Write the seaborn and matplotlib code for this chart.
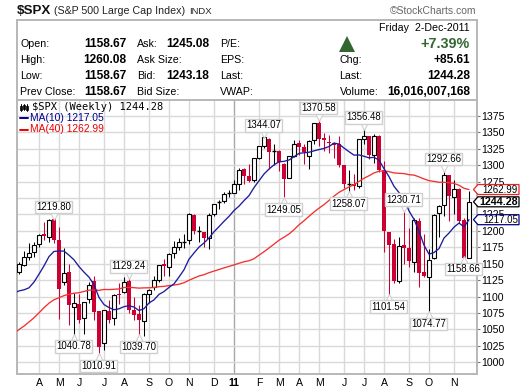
import numpy as np
import pandas as pd
import seaborn as sns
import matplotlib
matplotlib.use("Agg")
import matplotlib.pyplot as plt
from matplotlib.patches import Polygon

# ---------- data ----------
opens = [1137,1148,1160,1168,1180,1195,1191,1218,1186,1122,
         1137,1084,1088,1067,1096,1124,1078,1029,1078,1067,
         1104,1107,1124,1079,1073,1063,1104,1114,1125,1149,
         1145,1166,1176,1183,1186,1224,1199,1198,1189,1225,
         1243,1245,1256,1258,1271,1294,1284,1277,1311,1329,
         1340,1320,1322,1302,1281,1314,1334,1328,1314,1338,
         1364,1341,1336,1334,1332,1300,1271,1271,1268,1340,
         1344,1316,1344,1293,1199,1180,1124,1178,1174,1153,
         1215,1137,1130,1158,1227,1239,1285,1252,1264,1217,
         1158.67]
highs = [1153,1170,1181,1183,1195,1214,1218,1219.80,1206,1174,
         1150,1105,1104,1092,1122,1131,1078,1079,1095,1104,
         1120,1129,1129.24,1100,1087,1105,1111,1131,1148,1157,
         1167,1184,1189,1196,1227,1226,1207,1199,1227,1241,
         1247,1259,1262,1278,1296,1296,1302,1311,1330,1344.07,
         1342,1332,1323,1303,1314,1338,1339,1332,1339,1365,
         1370.58,1349,1346,1336,1345,1300,1292,1286,1340,1356.48,
         1345,1347,1346,1307,1199,1188,1190,1230.71,1204,1220,
         1220,1196,1172,1226,1240,1292.66,1285,1277,1265,1219,
         1260.08]
lows = [1134,1146,1155,1160,1175,1186,1183,1181,1066,1117,
        1056,1040.78,1060,1043,1090,1065,1010.91,1018,1060,1056,
        1089,1105,1075,1065,1039.70,1040,1090,1110,1122,1131,
        1131,1159,1171,1174,1180,1195,1183,1175,1173,1222,
        1234,1243,1252,1257,1263,1272,1275,1275,1310,1327,
        1295,1300,1291,1249.05,1280,1312,1316,1302,1295,1332,
        1329,1322,1318,1311,1298,1265,1258.07,1262,1266,1333,
        1310,1303,1289,1168,1101.54,1120,1121,1150,1145,1137,
        1114,1129,1074.77,1157,1191,1222,1215,1226,1212,1158.66,
        1158.67]
closes = [1149.99,1159.90,1166.59,1178.10,1194.37,1192.13,1217.28,1186.69,1110.88,1135.68,
          1087.69,1089.41,1064.88,1091.60,1117.51,1076.76,1022.58,1078.75,1064.88,1102.66,
          1101.60,1121.64,1079.25,1071.69,1064.59,1104.51,1109.55,1125.59,1148.67,1146.24,
          1165.15,1176.19,1183.08,1183.26,1225.85,1199.21,1199.73,1189.40,1224.71,1240.40,
          1243.91,1256.77,1257.64,1271.50,1293.24,1283.35,1276.34,1310.87,1329.15,1343.01,
          1319.88,1321.15,1304.28,1279.21,1313.80,1332.41,1328.17,1319.68,1337.38,1363.61,
          1340.20,1337.77,1333.27,1331.10,1300.16,1270.98,1271.50,1268.45,1339.67,1343.80,
          1316.14,1345.02,1292.28,1199.38,1178.81,1123.53,1176.80,1173.97,1154.23,1216.01,
          1136.43,1131.42,1155.46,1224.58,1238.25,1285.09,1253.23,1263.85,1215.65,1158.67,
          1244.28]
ma10 = [1105.1,1108.6,1110.2,1113.3,1122.0,1134.1,1146.7,1160.9,1168.7,1169.4,1169.2,
        1163.0,1155.9,1145.7,1137.1,1129.5,1118.0,1098.6,1087.8,1083.2,1079.9,
        1081.3,1084.6,1086.0,1084.0,1078.7,1081.5,1090.2,1094.9,1103.3,1107.6,
        1113.9,1119.3,1129.7,1140.8,1156.9,1166.3,1175.3,1181.6,1189.2,1198.6,
        1206.5,1214.6,1222.1,1231.0,1237.7,1246.1,1253.7,1265.9,1276.3,1286.6,
        1294.2,1300.6,1305.2,1305.9,1308.0,1312.9,1318.1,1319.0,1319.8,1321.9,
        1323.9,1325.6,1328.5,1333.7,1332.3,1326.2,1320.6,1315.4,1315.7,1313.7,
        1311.3,1312.0,1307.9,1294.7,1282.6,1267.9,1258.4,1249.0,1230.4,1217.6,
        1199.6,1178.2,1164.5,1167.1,1173.0,1189.1,1196.7,1205.7,1211.9,1206.2,
        1217.05]
ma40 = [1044.0,1049.7,1055.0,1061.2,1067.7,1075.2,1083.0,1089.9,1095.1,1098.2,1101.4,
        1103.5,1105.0,1105.9,1107.8,1109.7,1109.9,1109.4,1110.8,1110.6,1111.0,
        1111.6,1113.7,1114.0,1113.5,1112.8,1113.2,1113.3,1113.8,1115.0,1115.5,
        1116.7,1117.5,1118.7,1121.0,1124.8,1128.1,1131.3,1133.3,1136.3,1138.8,
        1141.2,1143.6,1145.9,1148.2,1150.7,1153.0,1154.5,1157.6,1163.0,1168.2,
        1174.0,1179.8,1185.8,1190.4,1195.3,1201.7,1209.3,1215.4,1222.2,1228.7,
        1234.6,1240.0,1246.4,1252.9,1258.7,1262.9,1266.9,1270.5,1275.3,1280.2,
        1284.0,1288.2,1290.9,1291.3,1290.2,1288.3,1287.7,1287.3,1285.6,1285.0,
        1282.3,1279.1,1276.5,1275.4,1274.0,1274.0,1273.5,1272.3,1269.5,1264.9,
        1262.99]
month_labels = ["A","M","J","J","A","S","O","N","D","11","F","M","A","M","J","J","A","S","O","N"]
month_weeks = [4,8,12,17,21,26,30,34,39,43,48,52,56,60,65,69,73,78,82,87]
price_ticks = list(range(1000, 1376, 25))
hidden_price_labels = [1250]          # sits fully behind the price tags
peak_weeks = [7,22,49,60,69,77,85]    # labelled highs
trough_weeks = [11,16,24,53,66,74,82,89]  # labelled lows
left_rows = [("Open:","1158.67","Ask:","1245.08","P/E:"),
             ("High:","1260.08","Ask Size:","","EPS:"),
             ("Low:","1158.67","Bid:","1243.18","Last:"),
             ("Prev Close:","1158.67","Bid Size:","","VWAP:")]
right_rows = [("Chg:","+85.61"),("Last:","1244.28"),("Volume:","16,016,007,168")]
tags = [("1262.99", 1262.99, "#ee2222", False), ("1244.28", 1244.28, "#000000", True),
        ("1217.05", 1217.05, "#000088", False)]

# ---------- style ----------
W, H = 520, 391
sns.set_theme(style="white")
plt.rcParams["font.family"] = ["Liberation Sans", "DejaVu Sans"]
plt.rcParams["axes.unicode_minus"] = False
GRID = "#d9d9d9"; FRAME = "#b8b8b8"; RED = "#cc0033"
fig = plt.figure(figsize=(W/100, H/100), dpi=100, facecolor="white")
def axes_px(x0, y0, x1, y1):
    return fig.add_axes([x0/W, 1-y1/H, (x1-x0)/W, (y1-y0)/H])
def ftext(x, y, s, **k):
    k.setdefault("va", "center"); k.setdefault("color", "black")
    fig.text(x/W, 1-y/H, s, **k)

# ---------- price panel ----------
ax = axes_px(16.5, 99.5, 476.5, 373.5)
ax.set_xlim(-0.5, 91.5)
ax.set_ylim(1375-(373.5-116)/0.6565, 1375+(116-99.5)/0.6565)
weeks = np.arange(len(closes))
ax.set_yticks(price_ticks)
ax.set_yticklabels(["" if p in hidden_price_labels else str(p) for p in price_ticks])
ax.set_xticks(month_weeks); ax.set_xticklabels(month_labels)
ax.set_xticks(weeks, minor=True)
ax.yaxis.tick_right()
ax.grid(True, which="major", color=GRID, lw=1.0)
ax.set_axisbelow(True)
for lab, gl in zip(month_labels, ax.get_xgridlines()):
    if lab == "11":
        gl.set_color("#a8a8a8")
ax.tick_params(axis="y", which="major", length=2, width=0.8, color="#777777", labelsize=7.6, pad=1.5, labelcolor="black")
ax.tick_params(axis="x", which="major", length=2, width=0.8, color=FRAME, labelsize=7.6, pad=1.5, labelcolor="black")
ax.tick_params(axis="x", which="minor", length=1, width=0.6, color=FRAME)
for t, lab in zip(ax.get_xticklabels(), month_labels):
    if lab == "11":
        t.set_fontweight("bold")
for sp in ax.spines.values():
    sp.set_color(FRAME); sp.set_linewidth(1.4)

prev = [closes[0]-11.29] + closes[:-1]
for i in weeks:
    o, h, l, c = opens[i], highs[i], lows[i], closes[i]
    col = "black" if c >= prev[i] else RED
    ax.vlines(i, l, h, color=col, lw=0.75, zorder=2)
    lo, hi = min(o, c), max(o, c)
    if col == RED and c < o:
        ax.bar(i, hi-lo, bottom=lo, width=0.96, color=RED, lw=0, zorder=3)
    elif hi-lo < 2.5:
        ax.hlines(c, i-0.45, i+0.45, color=col, lw=1.0, zorder=3)
    else:
        ax.bar(i, hi-lo, bottom=lo, width=0.78, facecolor="white", edgecolor=col, lw=0.8, zorder=3)

ma_weeks = np.arange(-1, len(closes))
sns.lineplot(x=ma_weeks, y=ma40, ax=ax, color="#f23030", lw=0.95, estimator=None, zorder=4, legend=False)
sns.lineplot(x=ma_weeks, y=ma10, ax=ax, color="#1c1c9c", lw=0.95, estimator=None, zorder=5, legend=False)
ax.set_xlabel(""); ax.set_ylabel("")

def callout(week, value, up):
    sign = 1 if up else -1
    ax.plot([week], [value + sign*3.5], marker="^" if not up else "v", ms=5.5, mfc="white", mec="#cfcfcf",
            mew=0.8, zorder=6, clip_on=False)
    ax.annotate(f"{value:.2f}", xy=(week, value), xytext=(-0.5, sign*11), textcoords="offset pixels",
                ha="center", va="center", fontsize=6.9, color="black", zorder=7, annotation_clip=False,
                bbox=dict(boxstyle="square,pad=0.14", fc="white", ec="#cfcfcf", lw=1.0))
for w in peak_weeks:
    callout(w, highs[w], True)
for w in trough_weeks:
    callout(w, lows[w], False)

# ---------- right-hand price tags ----------
fig.canvas.draw()
for txt, val, col, bold in tags:
    yp = ax.transData.transform((0, val))[1]
    pts = [(473.5, yp), (478, yp+5), (519, yp+5), (519, yp-5), (478, yp-5)]
    fig.add_artist(Polygon(pts, closed=True, transform=None, fc="white", ec=col, lw=0.9, zorder=8))
    ftext(518, H-yp, txt, ha="right", fontsize=7.7 if bold else 7.0, fontweight="bold" if bold else "normal", zorder=9)

# ---------- legend lines ----------
ftext(32, 107.5, "$SPX (Weekly) 1244.28", family="DejaVu Sans Mono", fontsize=7.5)
for x, top, bot, a, b in [(21, 104, 111, 105.5, 109.5), (24, 103.5, 110.5, 105, 109), (27, 104, 111, 105.5, 109.5)]:
    fig.add_artist(plt.Line2D([x/W, x/W], [1-top/H, 1-bot/H], color="black", lw=0.7))
    fig.add_artist(plt.Rectangle(((x-1)/W, 1-b/H), 2/W, (b-a)/H, fc="white", ec="black", lw=0.6))
fig.add_artist(plt.Line2D([20/W, 28/W], [1-118/H, 1-118/H], color="#000088", lw=1.4))
ftext(29.5, 118, "MA(10) 1217.05", color="#000088", fontsize=7.4)
fig.add_artist(plt.Line2D([20/W, 28/W], [1-129.5/H, 1-129.5/H], color="#ee0000", lw=1.4))
ftext(29.5, 129.5, "MA(40) 1262.99", color="#ee0000", fontsize=7.4)

# ---------- header ----------
hd = axes_px(16.5, 19.5, 476.5, 99.5)
hd.set_xticks([]); hd.set_yticks([]); hd.patch.set_facecolor("white")
for sp in hd.spines.values():
    sp.set_color(FRAME); sp.set_linewidth(1.4)
ftext(16.5, 11, "$SPX", fontweight="bold", fontsize=9.6, color="#111111")
ftext(53.5, 11, "(S&P 500 Large Cap Index)", fontsize=7.7, color="#222222")
ftext(189.5, 11, "INDX", fontsize=6.8, color="#222222")
ftext(476, 11.5, "©StockCharts.com", ha="right", fontsize=7.5, color="#666666")
ftext(469.5, 28, "Friday  2-Dec-2011", ha="right", fontsize=7.7)
ftext(470, 44, "+7.39%", ha="right", fontweight="bold", fontsize=10.4, color="#336633")
hd.set_xlim(16.5, 476.5); hd.set_ylim(99.5, 19.5)
hd.plot([347], [44], marker="^", ms=11, color="#336633", mew=0, clip_on=False)
for y, (a, b, c, d, e) in zip([44, 60, 76, 92], left_rows):
    ftext(20.5, y, a, fontsize=7.7)
    ftext(126.5, y, b, ha="right", fontweight="bold", fontsize=8.6)
    ftext(137, y, c, fontsize=7.7)
    if d:
        ftext(209.5, y, d, ha="right", fontweight="bold", fontsize=8.6)
    ftext(220, y, e, fontsize=7.7)
for y, (a, b) in zip([60, 76, 92], right_rows):
    ftext(339.5, y, a, fontsize=7.7)
    ftext(470, y, b, ha="right", fontweight="bold", fontsize=8.6)

fig.savefig("out.png", dpi=100, facecolor="white")
